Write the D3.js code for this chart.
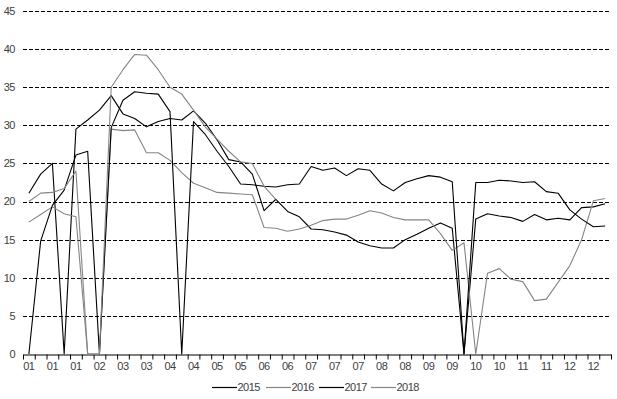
<!DOCTYPE html>
<html lang="en">
<head>
  <script src="https://d3js.org/d3.v7.min.js"></script>
  <style>
    body { margin: 0; background: #fff; }
    text { font-family: "Liberation Sans Narrow", "Arial Narrow", "Liberation Sans", Arial, sans-serif; font-size: 11px; letter-spacing: -0.5px; fill: #404040; }
  </style>
</head>
<body>
  <div id="chart"></div>
  <script>
    // week labels (month of each week)
    var weeks = ["01","01","01","01","01","02","02","02","03","03","03","03","04","04","04","04",
      "05","05","05","05","06","06","06","06","07","07","07","07","07","08","08","08","08",
      "09","09","09","09","10","10","10","10","11","11","11","11","12","12","12","12","12"];

    var s2015 = [21.1,23.6,25.0,0,29.5,30.7,32.0,33.9,31.5,30.9,29.8,30.5,30.9,30.7,31.9,30.3,
      28.1,25.5,25.2,23.6,18.8,20.3,18.7,18.0,16.4,16.3,16.0,15.6,14.7,14.2,13.9,13.9,15.0,
      15.7,16.5,17.2,16.5,0,17.7,18.4,18.1,17.9,17.4,18.3,17.6,17.8,17.6,19.2,19.3,19.7];

    var s2016 = [17.3,18.3,19.3,18.4,18.0,0,0,29.5,29.3,29.4,26.4,26.4,25.4,23.8,22.4,21.8,
      21.2,21.1,21.0,20.9,16.6,16.5,16.1,16.4,16.9,17.5,17.7,17.7,18.2,18.8,18.5,17.9,17.6,
      17.6,17.6,15.8,13.6,14.6,0,10.6,11.2,9.8,9.5,7.0,7.2,9.4,11.6,15.0,20.1,20.4];

    var s2017 = [0,14.8,19.5,21.5,26.1,26.6,0,29.7,33.3,34.4,34.2,34.1,31.8,0,30.5,28.8,
      26.6,24.6,22.3,22.2,22.0,21.9,22.2,22.3,24.6,24.1,24.4,23.4,24.3,24.1,22.3,21.4,22.5,
      23.0,23.4,23.2,22.6,0,22.5,22.5,22.8,22.7,22.5,22.6,21.3,21.1,18.9,17.7,16.7,16.8];

    var s2018 = [20.0,21.1,21.2,21.7,24.0,0,0,35.0,37.3,39.3,39.2,37.3,35.0,34.1,32.0,29.8,
      28.2,26.6,25.2,25.0,22.0,20.3];

    var seriesNames = ["2015", "2016", "2017", "2018"];
    var seriesColors = ["#000000", "#858585", "#000000", "#858585"];
    var yTicks = [0, 5, 10, 15, 20, 25, 30, 35, 40, 45];

    var W = 617, H = 399;
    var plotLeft = 23, plotRight = 611, plotTop = 11, plotBottom = 354;

    var svg = d3.select("#chart").append("svg")
      .attr("width", W).attr("height", H);

    // category boundaries and centres
    var xb = d3.scaleLinear().domain([0, weeks.length]).range([plotLeft, plotRight]);
    var y = d3.scaleLinear().domain([0, 45]).range([plotBottom, plotTop]);

    // dashed gridlines
    svg.append("g").selectAll("line")
      .data(yTicks.filter(function(d) { return d > 0; }))
      .join("line")
        .attr("x1", plotLeft).attr("x2", plotRight)
        .attr("y1", function(d) { return Math.round(y(d)) + 0.5; })
        .attr("y2", function(d) { return Math.round(y(d)) + 0.5; })
        .attr("stroke", "#000")
        .attr("stroke-dasharray", "4,2");

    // y labels
    svg.append("g").selectAll("text")
      .data(yTicks)
      .join("text")
        .attr("x", 15)
        .attr("y", function(d) { return y(d); })
        .attr("dy", "0.35em")
        .attr("text-anchor", "end")
        .text(function(d) { return d; });

    // x axis: ticks at category boundaries
    var xAxis = svg.append("g")
      .attr("transform", "translate(0," + (Math.round(plotBottom) + 0.5) + ")")
      .call(d3.axisBottom(xb)
        .tickValues(d3.range(weeks.length + 1))
        .tickFormat("")
        .tickSizeInner(5)
        .tickSizeOuter(0));
    xAxis.select(".domain").attr("stroke", "#000");
    xAxis.selectAll(".tick line").attr("stroke", "#000");

    // x labels on every second week
    svg.append("g").selectAll("text")
      .data(d3.range(0, weeks.length, 2))
      .join("text")
        .attr("x", function(i) { return xb(i + 0.5); })
        .attr("y", 370)
        .attr("text-anchor", "middle")
        .text(function(i) { return weeks[i]; });

    // lines
    var allSeries = [s2015, s2016, s2017, s2018];
    var line = d3.line()
      .x(function(d, i) { return xb(i + 0.5); })
      .y(function(d) { return y(d); });

    svg.append("g").selectAll("path")
      .data(allSeries)
      .join("path")
        .attr("d", function(d) { return line(d); })
        .attr("fill", "none")
        .attr("stroke", function(d, i) { return seriesColors[i]; })
        .attr("stroke-width", 1.1)
        .attr("stroke-linejoin", "round");

    // legend
    var legendX = [212, 266, 319, 371];
    var lg = svg.append("g").selectAll("g")
      .data(seriesNames)
      .join("g")
        .attr("transform", function(d, i) { return "translate(" + legendX[i] + ",387.5)"; });
    lg.append("line")
      .attr("x1", 0).attr("x2", 25)
      .attr("stroke", function(d, i) { return seriesColors[i]; })
      .attr("stroke-width", 1.2);
    lg.append("text")
      .attr("x", 25.5)
      .attr("dy", "0.35em")
      .text(function(d) { return d; });
  </script>
</body>
</html>
